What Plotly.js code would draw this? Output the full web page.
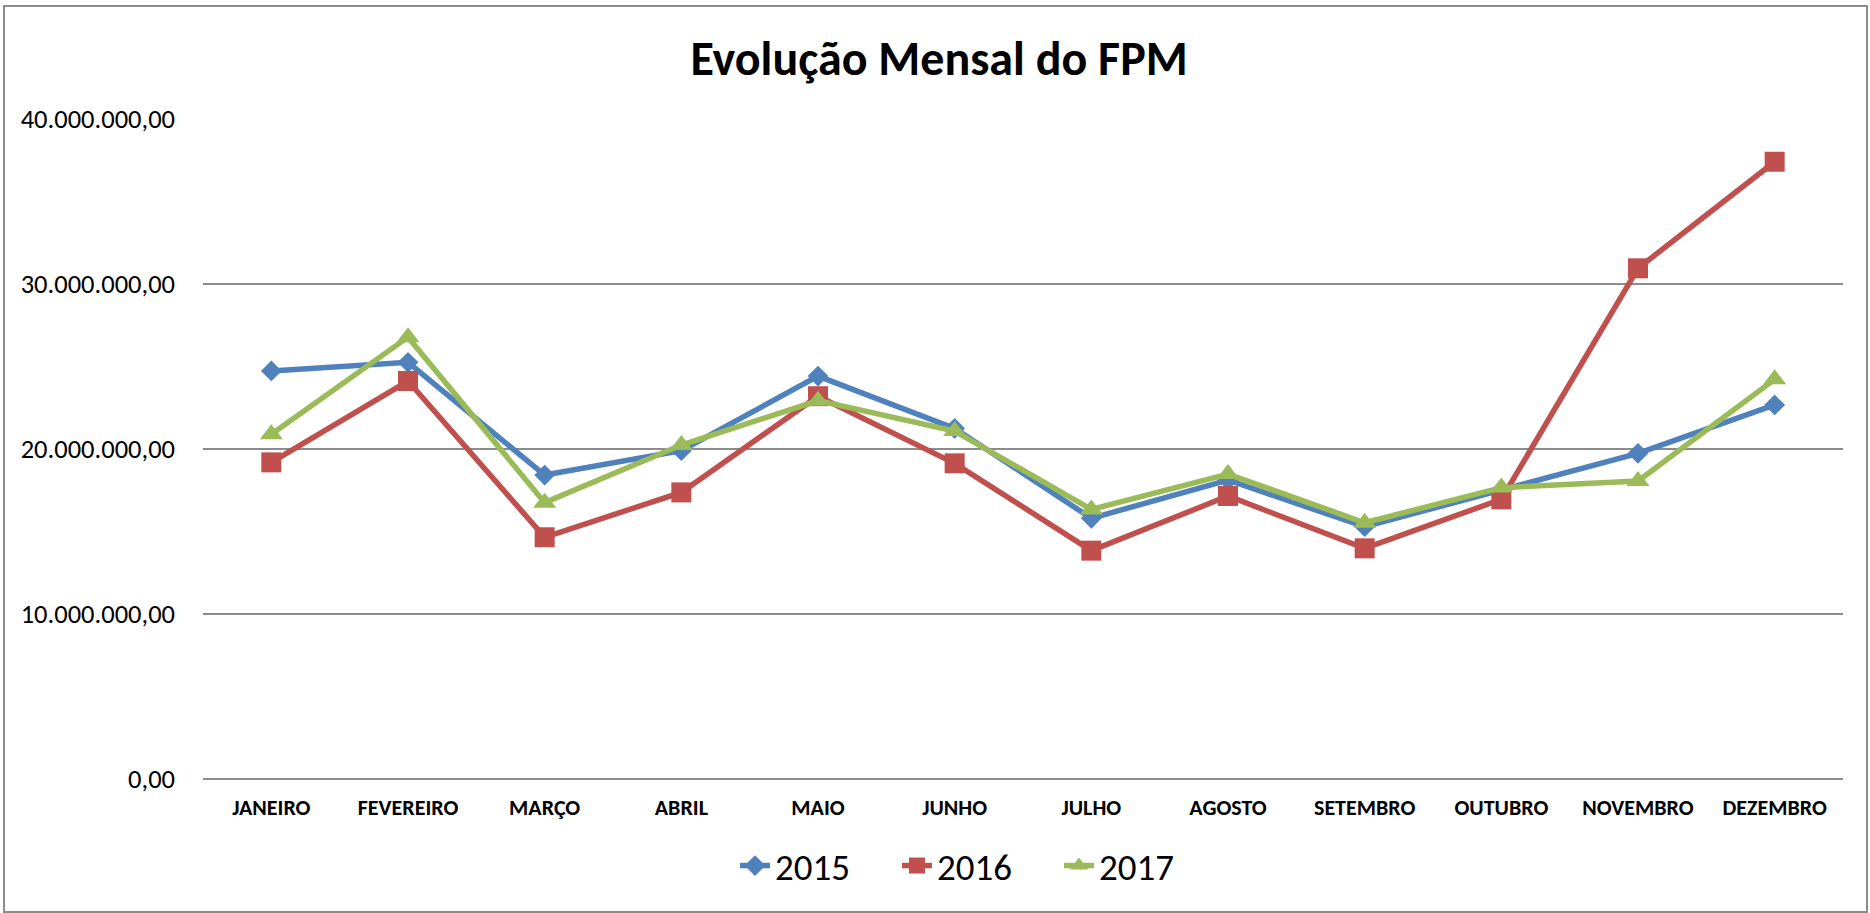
<!DOCTYPE html>
<html>
<head>
<meta charset="utf-8">
<script src="https://cdn.plot.ly/plotly-3.0.1.min.js"></script>
<style>
html,body{margin:0;padding:0;background:#fff;}
#chart{width:1870px;height:913px;}
</style>
</head>
<body>
<div id="chart"></div>
<script>
const months = ["JANEIRO","FEVEREIRO","MARÇO","ABRIL","MAIO","JUNHO","JULHO","AGOSTO","SETEMBRO","OUTUBRO","NOVEMBRO","DEZEMBRO"];
const fpm2015 = [24730000,25250000,18420000,19900000,24420000,21250000,15800000,18120000,15290000,17520000,19740000,22670000];
const fpm2016 = [19190000,24120000,14650000,17370000,23200000,19130000,13840000,17150000,13980000,16950000,30950000,37410000];
const fpm2017 = [20900000,26780000,16750000,20240000,22930000,21090000,16340000,18480000,15530000,17660000,18060000,24220000];
const seriesNames = ["2015","2016","2017"];
const yTicks = [0,10000000,20000000,30000000,40000000];

const FONT = "Carlito, Calibri, 'Open Sans', sans-serif";
const W = 1870, H = 913;
const M = {l:203, r:27, t:119, b:134};
const pw = W - M.l - M.r, ph = H - M.t - M.b;
const px2x = p => (p - M.l) / pw;
const px2y = p => (H - M.b - p) / ph;

const traces = [
  {name: seriesNames[0], x: months, y: fpm2015, type:'scatter', mode:'lines+markers',
   line:{color:'#4F81BD', width:5.5}, marker:{symbol:'diamond', size:16, color:'#4F81BD'}},
  {name: seriesNames[1], x: months, y: fpm2016, type:'scatter', mode:'lines+markers',
   line:{color:'#C0504D', width:5.5}, marker:{symbol:'square', size:20, color:'#C0504D'}},
  {name: seriesNames[2], x: months, y: fpm2017, type:'scatter', mode:'lines+markers',
   line:{color:'#9BBB59', width:5.5}, marker:{symbol:'triangle-up', size:20, color:'#9BBB59'}}
];

const layout = {
  width: W, height: H,
  margin: M,
  paper_bgcolor:'#fff', plot_bgcolor:'#fff',
  separators: ',.',
  font:{family: FONT, color:'#000'},
  title:{text:'<b>Evolução Mensal do FPM</b>', font:{size:48, family:FONT, color:'#000'},
         x: 939/W, xref:'container', xanchor:'center', y: (H-58)/H, yref:'container', yanchor:'middle'},
  xaxis:{
    type:'category', range:[-0.5, months.length - 0.5],
    showgrid:false, showline:false, zeroline:false, ticks:'',
    tickfont:{size:22, family:FONT, color:'#000', weight:'bold'},
    ticklabelstandoff: 13,
    fixedrange:true
  },
  yaxis:{
    range:[0,40000000], tickvals: yTicks, tickformat:',.2f',
    showgrid:true, gridcolor:'#8c8c8c', gridwidth:2,
    zeroline:true, zerolinecolor:'#8c8c8c', zerolinewidth:2,
    showline:false, ticks:'',
    tickfont:{size:26.5, family:FONT, color:'#000'},
    ticklabelstandoff: 27,
    fixedrange:true
  },
  showlegend:true,
  legend:{orientation:'h', x: 735/W, xref:'container', xanchor:'left',
          y: (H-866)/H, yref:'container', yanchor:'middle',
          font:{size:37, family:FONT, color:'#000'}, entrywidth:117, bgcolor:'rgba(0,0,0,0)'},
  shapes:[{type:'rect', xref:'paper', yref:'paper',
           x0: px2x(4), x1: px2x(1867), y0: px2y(912), y1: px2y(6),
           line:{color:'#8c8c8c', width:2}, fillcolor:'rgba(0,0,0,0)', layer:'below'}]
};

Plotly.newPlot('chart', traces, layout, {displayModeBar:false, staticPlot:true});
</script>
</body>
</html>
